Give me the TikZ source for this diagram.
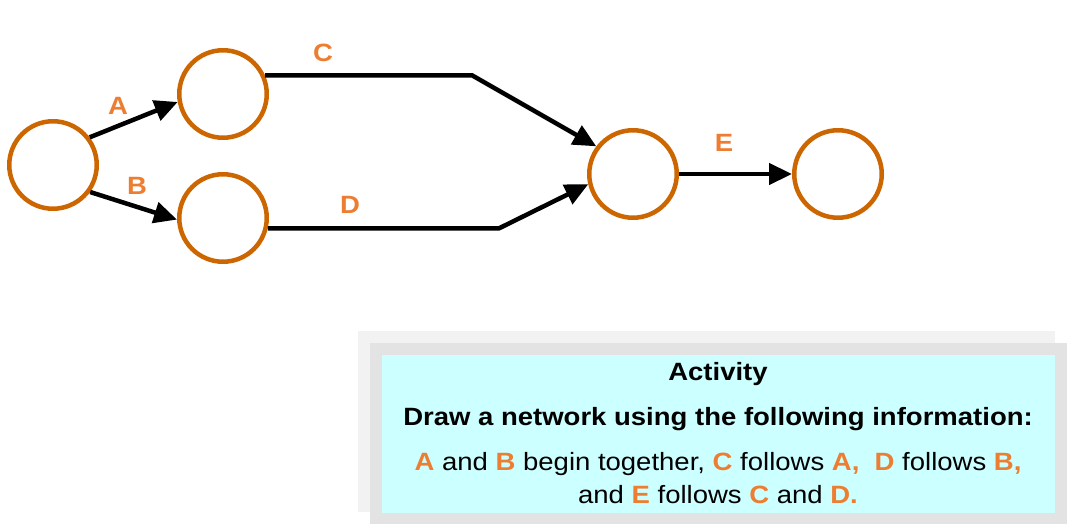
\documentclass[tikz,border=0pt]{standalone}
\usepackage{fontspec}
\setmainfont[FakeStretch=1.1]{Liberation Sans}
\usepackage{tikz}
\usetikzlibrary{arrows.meta}

\definecolor{ringorange}{HTML}{CC6600}
\definecolor{labelorange}{HTML}{ED7D31}
\definecolor{boxcyan}{HTML}{CCFFFF}
\definecolor{shadowlight}{HTML}{F2F2F2}
\definecolor{shadowdark}{HTML}{E3E3E3}

\tikzset{
	event/.style={circle,draw=ringorange,line width=4.5pt,minimum size=87.5pt,inner sep=0pt},
	act/.style={line width=4.5pt,-{Triangle[length=23pt,width=21pt]}},
	actlabel/.style={text=labelorange,font=\fontsize{25}{30}\selectfont\bfseries},
	boxtext/.style={anchor=base,font=\fontsize{25}{30}\selectfont}
}
\newcommand{\hl}[1]{\textcolor{labelorange}{\textbf{#1}}}

\begin{document}
\begin{tikzpicture}[x=1pt,y=-1pt]
		\useasboundingbox (0,0) rectangle (1075,529);
		
		% draw the events
		\foreach \n/\x/\y in {ev1/53/165,ev2/223/94,ev3/223/218,ev4/633/174,ev5/838/174}
		\node[event] (\n) at (\x,\y) {};
		
		% bend points of C and D
		\coordinate (bendC) at (472,75);
		\coordinate (bendD) at (499,228);
		
		% draw the activities
		\draw[act] (ev1.37) -- (ev2.190);
		\draw[act] (ev1.-36) -- (ev3.182);
		\draw[act] (ev2.24) -- (ev2.24 -| bendC) -- (ev4.143);
		\draw[act] (ev3.-13) -- (ev3.-13 -| bendD) -- (ev4.193);
		\draw[act] (ev4) -- (ev5);
		
		% activity labels
		\node[actlabel] (labA) at (118,106) {A};
		\node[actlabel] (labB) at (137,186) {B};
		\node[actlabel] (labC) at (323,53) {C};
		\node[actlabel] (labD) at (350,205) {D};
		\node[actlabel] (labE) at (724,143) {E};
		
		% the activity box
		\fill[shadowlight] (358,331) rectangle (1055,512);
		\fill[shadowdark] (370,343) rectangle (1067,524);
		\fill[boxcyan] (382,355) rectangle (1055,513);
		\node[boxtext] (title) at (718,380) {\textbf{Activity}};
		\node[boxtext] (task) at (718,425) {\textbf{Draw a network using the following information:}};
		\node[boxtext] (info1) at (718,470) {\hl{A} and \hl{B} begin together, \hl{C} follows \hl{A,}\ \ \hl{D} follows \hl{B,}};
		\node[boxtext] (info2) at (718,503) {and \hl{E} follows \hl{C} and \hl{D.}};
		
\end{tikzpicture}
\end{document}
